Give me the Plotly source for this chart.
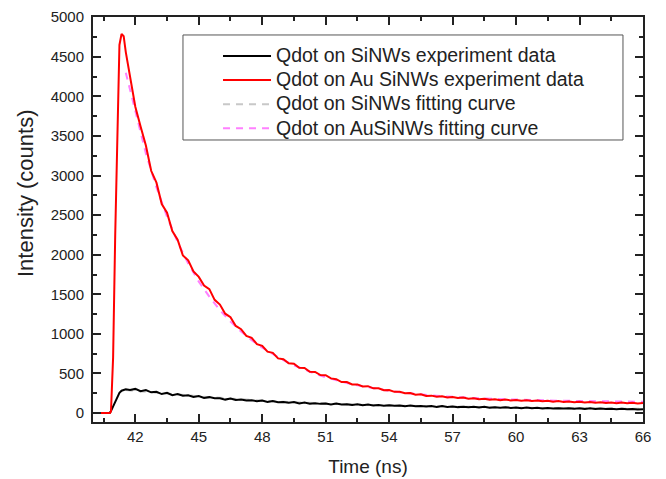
import plotly.graph_objects as go

# ---------------- data ----------------
time_ns = [40.0, 40.2, 40.4, 40.6, 40.8, 40.85, 40.95, 41.05, 41.15, 41.25, 41.35, 41.45, 41.55, 41.75,
           42.0, 42.25, 42.5, 42.75, 43.0, 43.25, 43.5, 43.75, 44.0, 44.25, 44.5, 44.75,
           45.0, 45.25, 45.5, 45.75, 46.0, 46.25, 46.5, 46.75, 47.0, 47.25, 47.5, 47.75,
           48.0, 48.25, 48.5, 48.75, 49.0, 49.25, 49.5, 49.75, 50.0, 50.25, 50.5, 50.75,
           51.0, 51.25, 51.5, 51.75, 52.0, 52.25, 52.5, 52.75, 53.0, 53.25, 53.5, 53.75,
           54.0, 54.25, 54.5, 54.75, 55.0, 55.25, 55.5, 55.75, 56.0, 56.25, 56.5, 56.75,
           57.0, 57.25, 57.5, 57.75, 58.0, 58.25, 58.5, 58.75, 59.0, 59.25, 59.5, 59.75,
           60.0, 60.25, 60.5, 60.75, 61.0, 61.25, 61.5, 61.75, 62.0, 62.25, 62.5, 62.75,
           63.0, 63.25, 63.5, 63.75, 64.0, 64.25, 64.5, 64.75, 65.0, 65.25, 65.5, 65.75, 66.0]

sinws_counts = [0, 0, 0, 0, 5, 25, 80, 150, 210, 255, 282, 295, 300, 292,
                305, 275, 290, 262, 268, 240, 255, 226, 240, 220, 224, 203,
                216, 190, 201, 186, 188, 170, 183, 165, 170, 158, 161, 149,
                157, 139, 151, 136, 140, 130, 138, 122, 132, 119, 125, 116,
                121, 108, 119, 107, 112, 103, 111, 98, 108, 96, 102, 93,
                99, 91, 96, 85, 95, 85, 90, 82, 90, 78, 88, 78,
                83, 75, 81, 73, 80, 69, 79, 68, 74, 67, 72, 65,
                71, 61, 70, 60, 66, 59, 64, 58, 62, 56, 61, 54,
                60, 51, 59, 50, 56, 50, 54, 48, 53, 47, 51, 45, 48]

au_sinws_counts = [0, 0, 0, 0, 0, 20, 700, 2250, 3600, 4650, 4790, 4760, 4560, 4230,
                   3870, 3620, 3380, 3060, 2910, 2640, 2530, 2300, 2190, 1990, 1930, 1790,
                   1720, 1610, 1565, 1430, 1370, 1255, 1210, 1100, 1060, 975, 950, 870,
                   850, 775, 760, 690, 680, 628, 624, 572, 570, 522, 520, 480,
                   478, 438, 428, 392, 392, 362, 362, 336, 340, 312, 314, 288,
                   292, 268, 270, 250, 254, 232, 236, 216, 220, 205, 212, 197,
                   203, 189, 195, 181, 188, 175, 181, 168, 175, 163, 171, 160,
                   166, 155, 163, 151, 159, 148, 155, 144, 151, 141, 147, 137,
                   144, 134, 140, 131, 137, 128, 134, 125, 132, 123, 130, 121, 127]

fit_time_ns = [41.55, 42.0, 42.5, 43.0, 43.5, 44.0, 44.5, 45.0, 45.5, 46.0, 46.5, 47.0, 47.5,
               48.0, 48.5, 49.0, 49.5, 50.0, 50.5, 51.0, 51.5, 52.0, 52.5, 53.0, 53.5,
               54.0, 54.5, 55.0, 55.5, 56.0, 56.5, 57.0, 57.5, 58.0, 58.5, 59.0, 59.5,
               60.0, 60.5, 61.0, 61.5, 62.0, 62.5, 63.0, 63.5, 64.0, 64.5, 65.0, 65.5, 66.0]

sinws_fit = [290, 281, 268, 256, 245, 234, 223, 212, 201, 191, 181, 172, 164,
             156, 149, 142, 136, 130, 124, 119, 114, 110, 106, 102, 98,
             95, 92, 89, 86, 84, 81, 79, 77, 75, 73, 71, 69,
             68, 66, 65, 63, 62, 61, 59, 58, 57, 56, 55, 54, 53]

au_sinws_fit = [4300, 3800, 3280, 2850, 2480, 2160, 1890, 1660, 1470, 1300, 1155, 1030, 920,
                825, 742, 668, 603, 546, 496, 452, 413, 380, 350, 324, 301,
                281, 264, 248, 235, 223, 213, 204, 196, 189, 183, 178, 173,
                169, 165, 162, 159, 156, 154, 152, 150, 148, 146, 145, 144, 143]

x_ticks = [42, 45, 48, 51, 54, 57, 60, 63, 66]
y_ticks = [0, 500, 1000, 1500, 2000, 2500, 3000, 3500, 4000, 4500, 5000]

names = ["Qdot on SiNWs experiment data", "Qdot on Au SiNWs experiment data",
         "Qdot on SiNWs fitting curve", "Qdot on AuSiNWs fitting curve"]

# ---------------- figure ----------------
FONT = "Arial, Liberation Sans, sans-serif"
LEG = '<span style="font-size:19.5px">%s</span>'
fig = go.Figure()

fig.add_trace(go.Scatter(x=fit_time_ns, y=sinws_fit, mode="lines", name=LEG % names[2], legendrank=3,
                         line=dict(color="#c8c8c8", width=2, dash="7px,6px")))
fig.add_trace(go.Scatter(x=fit_time_ns, y=au_sinws_fit, mode="lines", name=LEG % names[3], legendrank=4,
                         line=dict(color="#ff80ff", width=2, dash="7px,6px")))
fig.add_trace(go.Scatter(x=time_ns, y=sinws_counts, mode="lines", name=LEG % names[0], legendrank=1,
                         line=dict(color="#000000", width=2)))
fig.add_trace(go.Scatter(x=time_ns, y=au_sinws_counts, mode="lines", name=LEG % names[1], legendrank=2,
                         line=dict(color="#ff0000", width=2)))

axis_common = dict(showline=True, linewidth=2, linecolor="#222", mirror="ticks",
                   ticks="inside", ticklen=8, tickwidth=1.5, tickcolor="#222",
                   showgrid=False, zeroline=False, automargin=False,
                   ticklabeloverflow="allow",
                   tickfont=dict(family=FONT, size=15, color="#222"))

fig.update_xaxes(range=[40, 66.001], tickvals=x_ticks,
                 minor=dict(dtick=1.5, tick0=42, ticks="inside", ticklen=4, tickcolor="#222", tickwidth=1.5),
                 title=dict(text="Time (ns)", font=dict(family=FONT, size=19, color="#222"), standoff=16),
                 **axis_common)
fig.update_yaxes(range=[-113, 5003], tickvals=y_ticks, ticklabelstandoff=4,
                 minor=dict(dtick=250, tick0=0, ticks="inside", ticklen=4, tickcolor="#222", tickwidth=1.5),
                 **axis_common)

# y-axis title (placed as in the reference, slightly above the axis centre)
fig.add_annotation(text="Intensity (counts)", textangle=-90, showarrow=False,
                   xref="paper", yref="paper", x=-0.1236, y=0.5654,
                   xanchor="center", yanchor="middle",
                   font=dict(family=FONT, size=22, color="#222"))

# legend frame
fig.add_shape(type="rect", xref="paper", yref="paper",
              x0=0.1636, x1=0.9636, y0=0.6963, y1=0.9556,
              line=dict(color="#555", width=1), fillcolor="white", layer="below")

# the page body adds an 8 px offset, so the figure is 8 px smaller on each used side
fig.update_layout(
    width=658, height=471,
    margin=dict(l=85, r=23, t=9, b=57, autoexpand=False),
    paper_bgcolor="white", plot_bgcolor="white",
    showlegend=True,
    legend=dict(x=0.2273, y=0.9457, xanchor="left", yanchor="top",
                bgcolor="rgba(0,0,0,0)", borderwidth=0,
                font=dict(family=FONT, size=16.2, color="#222"),
                itemwidth=48, tracegroupgap=0),
)

fig.write_html("out.html")
